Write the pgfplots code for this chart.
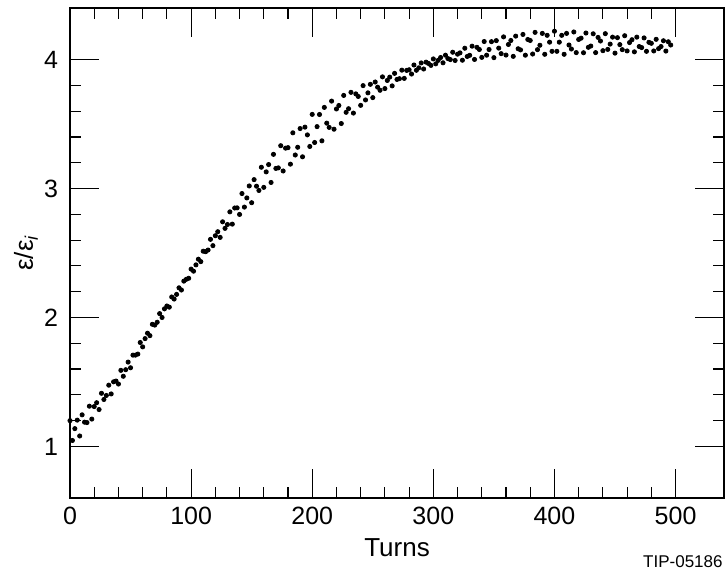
\documentclass[border=0pt]{standalone}
\usepackage{fontspec}
\setmainfont{Liberation Sans}
\usepackage{pgfplots}
\pgfplotsset{compat=1.18}

\begin{document}
\begin{tikzpicture}
\begin{axis}[
  name=ax,
  scale only axis,
  width=327pt, height=245pt,
  xmin=0, xmax=540,
  ymin=0.6, ymax=4.4,
  xtick={0,100,...,500},
  ytick={1,2,3,4},
  minor x tick num=4,
  minor y tick num=4,
  tick align=inside,
  major tick length=14.5pt,
  minor tick length=5.5pt,
  every tick/.style={black, line width=0.6pt},
  axis line style={line width=1pt},
  /pgf/number format/assume math mode=true,
  ticklabel style={font=\fontsize{12.5}{14}\selectfont},
  xticklabel style={yshift=-1pt},
  yticklabel style={xshift=-2.5pt},
  xlabel={Turns},
  ylabel={ε/ε\textsubscript{\itshape i}},
  label style={font=\fontsize{13}{15}\selectfont},
  xlabel style={at={(axis description cs:0.5,0)}, anchor=center, yshift=-25pt},
  ylabel style={at={(axis description cs:0,0.5)}, anchor=center, yshift=22pt},
  clip=false,
]
\addplot[only marks, mark=*, mark size=1.05pt, black] coordinates {
(0,1.200) (2,1.046) (4,1.138) (6,1.204) (8,1.081)
(10,1.245) (12,1.188) (14,1.185) (16,1.312) (18,1.212)
(20,1.309) (22,1.339) (24,1.286) (26,1.412) (28,1.364)
(30,1.395) (32,1.475) (34,1.407) (36,1.501) (38,1.507)
(40,1.484) (42,1.590) (44,1.544) (46,1.595) (48,1.654)
(50,1.610) (52,1.708) (54,1.708) (56,1.716) (58,1.806)
(60,1.772) (62,1.836) (64,1.878) (66,1.859) (68,1.947)
(70,1.941) (72,1.963) (74,2.030) (76,2.000) (78,2.067)
(80,2.089) (82,2.080) (84,2.159) (86,2.143) (88,2.179)
(90,2.230) (92,2.213) (94,2.282) (96,2.296) (98,2.304)
(100,2.375) (102,2.359) (104,2.408) (106,2.452) (108,2.433)
(110,2.514) (112,2.510) (114,2.523) (116,2.606) (118,2.557)
(120,2.634) (122,2.665) (124,2.621) (126,2.742) (128,2.691)
(130,2.721) (132,2.819) (134,2.724) (136,2.849) (138,2.850)
(140,2.799) (142,2.961) (144,2.856) (146,2.927) (148,3.020)
(150,2.890) (152,3.069) (154,3.018) (156,2.985) (158,3.165)
(160,3.009) (162,3.129) (164,3.186) (166,3.047) (168,3.265)
(170,3.156) (172,3.160) (174,3.332) (176,3.136) (178,3.313)
(180,3.317) (182,3.189) (184,3.432) (186,3.260) (188,3.320)
(190,3.465) (192,3.246) (194,3.476) (196,3.416) (198,3.326)
(200,3.575) (202,3.357) (204,3.480) (206,3.574) (208,3.370)
(210,3.629) (212,3.507) (214,3.474) (216,3.678) (218,3.460)
(220,3.617) (222,3.644) (224,3.504) (226,3.722) (228,3.591)
(230,3.619) (232,3.746) (234,3.585) (236,3.734) (238,3.714)
(240,3.645) (242,3.798) (244,3.687) (246,3.742) (248,3.808)
(250,3.705) (252,3.826) (254,3.786) (256,3.762) (258,3.866)
(260,3.775) (262,3.838) (264,3.864) (266,3.796) (268,3.893)
(270,3.846) (272,3.852) (274,3.918) (276,3.854) (278,3.916)
(280,3.921) (282,3.888) (284,3.958) (286,3.917) (288,3.936)
(290,3.974) (292,3.927) (294,3.980) (296,3.970) (298,3.955)
(300,4.005) (302,3.967) (304,3.994) (306,4.016) (308,3.975)
(310,4.034) (312,4.008) (314,4.000) (316,4.057) (318,3.993)
(320,4.042) (322,4.052) (324,3.995) (326,4.088) (328,4.024)
(330,4.033) (332,4.104) (334,4.001) (336,4.095) (338,4.078)
(340,4.017) (342,4.140) (344,4.034) (346,4.078) (348,4.139)
(350,4.015) (352,4.147) (354,4.089) (356,4.046) (358,4.176)
(360,4.035) (362,4.117) (364,4.148) (366,4.025) (368,4.182)
(370,4.084) (372,4.075) (374,4.195) (376,4.034) (378,4.156)
(380,4.148) (382,4.043) (384,4.211) (386,4.077) (388,4.111)
(390,4.203) (392,4.041) (394,4.188) (396,4.135) (398,4.064)
(400,4.220) (402,4.064) (404,4.135) (406,4.188) (408,4.041)
(410,4.203) (412,4.113) (414,4.082) (416,4.214) (418,4.054)
(420,4.156) (422,4.166) (424,4.053) (426,4.206) (428,4.095)
(430,4.105) (432,4.200) (434,4.054) (436,4.172) (438,4.144)
(440,4.069) (442,4.201) (444,4.079) (446,4.120) (448,4.174)
(450,4.050) (452,4.170) (454,4.116) (456,4.077) (458,4.185)
(460,4.067) (462,4.132) (464,4.154) (466,4.060) (468,4.174)
(470,4.101) (472,4.093) (474,4.168) (476,4.064) (478,4.134)
(480,4.126) (482,4.067) (484,4.157) (486,4.085) (488,4.101)
(490,4.146) (492,4.066) (494,4.138) (496,4.113)
};
\end{axis}
\node[anchor=east, font=\fontsize{8.5}{10}\selectfont, inner sep=0pt] at ([xshift=-0.5pt, yshift=-32pt]ax.south east) {TIP-05186};
\pgfresetboundingbox
\path[use as bounding box] ([xshift=-35pt, yshift=-39.5pt]ax.south west) rectangle ([xshift=0.5pt, yshift=4pt]ax.north east);
\end{tikzpicture}
\end{document}
